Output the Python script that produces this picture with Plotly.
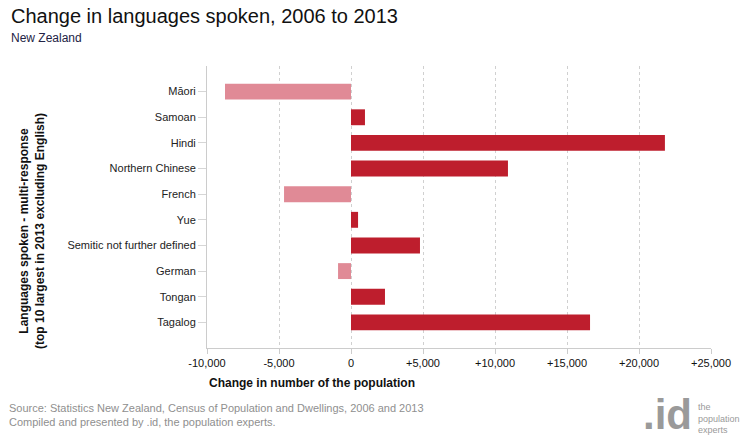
import plotly.graph_objects as go

languages = ["Māori", "Samoan", "Hindi", "Northern Chinese", "French", "Yue",
             "Semitic not further defined", "German", "Tongan", "Tagalog"]
change = [-8750, 970, 21800, 10900, -4650, 490, 4790, -900, 2360, 16600]

tick_vals = [-10000, -5000, 0, 5000, 10000, 15000, 20000, 25000]
tick_text = ["-10,000", "-5,000", "0", "+5,000", "+10,000", "+15,000", "+20,000", "+25,000"]

POS = "#BE1E2D"
NEG = "#E08A96"
colors = [POS if v >= 0 else NEG for v in change]

FONT = "Liberation Sans, Arial, sans-serif"

L, R, T, B = 207, 29, 66, 92
PW, PH = 740 - L - R, 440 - T - B


def px(x):
    return (x - L) / PW


def py(y):
    return (440 - B - y) / PH


fig = go.Figure(go.Bar(
    x=change, y=languages, orientation="h",
    marker=dict(color=colors, line=dict(width=0)),
    width=0.62, hoverinfo="x+y",
))

fig.update_layout(
    width=740, height=440,
    margin=dict(l=L, r=R, t=T, b=B),
    paper_bgcolor="white", plot_bgcolor="white",
    font=dict(family=FONT, size=11, color="#333333"),
    showlegend=False,
    xaxis=dict(
        range=[-10000, 25000], tickvals=tick_vals, ticktext=tick_text,
        showgrid=True, gridcolor="#D0D0D0", griddash="3px,3px", gridwidth=1,
        zeroline=False, showline=True, linecolor="#CCCCCC", linewidth=1,
        ticks="outside", ticklen=5, tickcolor="#CCCCCC",
        tickfont=dict(size=11, color="#111111", family=FONT),
        fixedrange=True, automargin=False,
    ),
    yaxis=dict(
        categoryorder="array", categoryarray=languages, autorange=False,
        range=[len(languages), -1],
        showgrid=False, zeroline=False, showline=True, linecolor="#CCCCCC", linewidth=1,
        ticks="outside", ticklen=8, tickcolor="#D6D6D6",
        tickfont=dict(size=11, color="#222222", family=FONT),
        fixedrange=True, automargin=False,
    ),
)

fig.update_layout(annotations=[
    dict(text="Change in languages spoken, 2006 to 2013", xref="paper", yref="paper",
         x=px(9), y=py(16), xanchor="left", yanchor="middle", showarrow=False,
         font=dict(size=20, color="#111111", family=FONT)),
    dict(text="New Zealand", xref="paper", yref="paper",
         x=px(9), y=py(38), xanchor="left", yanchor="middle", showarrow=False,
         font=dict(size=12, color="#222244", family=FONT)),
    dict(text="<b>Languages spoken - multi-response<br>(top 10 largest in 2013 excluding English)</b>",
         xref="paper", yref="paper", x=px(32), y=py(231), xanchor="center", yanchor="middle",
         textangle=-90, showarrow=False, font=dict(size=12, color="#111111", family=FONT)),
    dict(text="<b>Change in number of the population</b>", xref="paper", yref="paper",
         x=px(207), y=py(383), xanchor="left", yanchor="middle", showarrow=False,
         font=dict(size=12, color="#111111", family=FONT)),
    dict(text="Source: Statistics New Zealand, Census of Population and Dwellings, 2006 and 2013<br>"
              "Compiled and presented by .id, the population experts.",
         xref="paper", yref="paper", x=px(7), y=py(415), xanchor="left", yanchor="middle",
         align="left", showarrow=False, font=dict(size=11, color="#8F8F8F", family=FONT)),
    dict(text="<b>.id</b>", xref="paper", yref="paper", x=px(694), y=py(414),
         xanchor="right", yanchor="middle", showarrow=False,
         font=dict(size=42, color="#9A9A9A", family=FONT)),
    dict(text="the<br>population<br>experts", xref="paper", yref="paper",
         x=px(696), y=py(418), xanchor="left", yanchor="middle", align="left",
         showarrow=False, font=dict(size=9, color="#9A9A9A", family=FONT)),
])

fig.write_html("out.html", config={"displayModeBar": False},
               post_script="document.body.style.margin='0';")
